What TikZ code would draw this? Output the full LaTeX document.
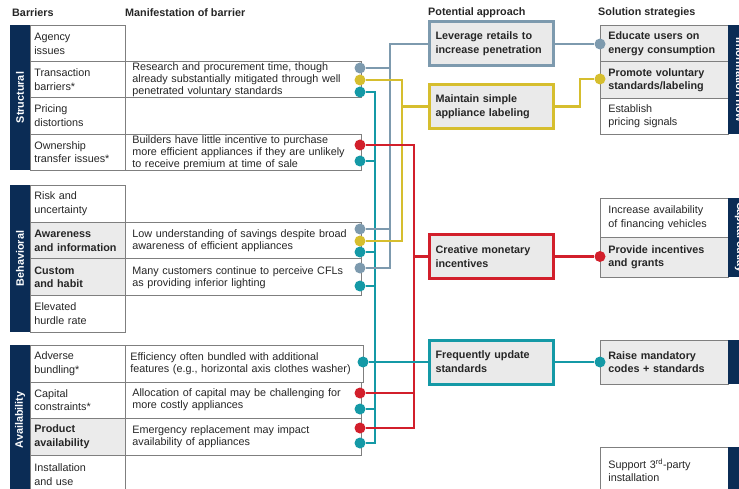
\documentclass[tikz,border=0pt]{standalone}
\usepackage{fontspec}
\setmainfont{Liberation Sans}
\usepackage{tikz}
\usetikzlibrary{positioning, calc}
\pgfdeclarelayer{lines}
\pgfsetlayers{lines,main}
\definecolor{navy}{HTML}{0B2C55}
\definecolor{framegray}{HTML}{7F7F7F}
\definecolor{keygray}{HTML}{EBEBEB}
\definecolor{apfill}{HTML}{EAEAEA}
\definecolor{inkgray}{HTML}{262626}
\definecolor{cgrey}{HTML}{7D9AAE}
\definecolor{cyellow}{HTML}{D6BE2E}
\definecolor{cteal}{HTML}{1499A6}
\definecolor{cred}{HTML}{D21F2B}
\tikzset{
  hdr/.style={font=\bfseries\fontsize{10.8}{12}\selectfont, text=inkgray, anchor=west, inner sep=0pt},
  brow/.style={rectangle, draw=framegray, line width=0.7pt, fill=white, text=inkgray,
    font=\fontsize{10.8}{13.8}\selectfont, minimum width=95pt, minimum height=36.5pt,
    text width=87pt, align=left, inner xsep=4pt, inner ysep=0pt, anchor=north west},
  brow/key/.style={brow, fill=keygray, font=\bfseries\fontsize{10.8}{13.8}\selectfont},
  mbox/.style={rectangle, draw=framegray, line width=0.7pt, fill=white, text=inkgray,
    font=\fontsize{10.8}{12}\selectfont, minimum width=235pt, minimum height=36.5pt,
    text width=222pt, align=left, inner xsep=7pt, inner ysep=0pt, anchor=north west},
  grp/.style={rectangle, fill=navy, text=white, font=\bfseries\fontsize{10.8}{12}\selectfont,
    minimum height=20pt, inner sep=0pt},
  appr/.style={rectangle, draw=#1, line width=3pt, fill=apfill, text=inkgray,
    font=\bfseries\fontsize{10.8}{14}\selectfont, minimum width=124pt, minimum height=44pt,
    text width=112pt, align=left, inner xsep=6pt, inner ysep=0pt},
  sbox/.style={rectangle, draw=framegray, line width=0.7pt, fill=white, text=inkgray,
    font=\fontsize{10.8}{13.5}\selectfont, minimum width=128pt, text width=112pt,
    align=left, inner xsep=8pt, inner ysep=0pt, anchor=north west},
  sbox/key/.style={sbox, fill=keygray, font=\bfseries\fontsize{10.8}{13.5}\selectfont},
  bead/.style={circle, fill=#1, minimum size=11pt, inner sep=0pt},
  conn/.style={draw=#1, line width=2.8pt},
}
\begin{document}
\begin{tikzpicture}[x=1pt, y=-1pt]
  \useasboundingbox (0,0) rectangle (739,489);
  \clip (0,0) rectangle (739,489);
  % column headers
  \node[hdr] (hB) at (12,13) {Barriers};
  \node[hdr] (hM) at (125,13) {Manifestation of barrier};
  \node[hdr] (hA) at (428,13) {Potential approach};
  \node[hdr] (hS) at (598,13) {Solution strategies};

  % structural barriers
  \node[grp, rotate=90, minimum width=145pt] (gS) at (20,97.5) {Structural};
  \node[brow, minimum height=36.25pt] (bS1) at (30,25) {Agency\\issues};
  \node[brow, minimum height=36.25pt] (bS2) at (30,61.25) {Transaction\\barriers*};
  \node[brow, minimum height=36.25pt] (bS3) at (30,97.5) {Pricing\\distortions};
  \node[brow, minimum height=36.25pt] (bS4) at (30,133.75) {Ownership\\transfer issues*};
  \node[mbox, minimum height=36.25pt] (mS2) at (125,61.25) {Research and procurement time, though\\already substantially mitigated through well\\penetrated voluntary standards};
  \node[mbox, minimum height=36.25pt] (mS4) at (125,133.75) {Builders have little incentive to purchase\\more efficient appliances if they are unlikely\\to receive premium at time of sale};

  % behavioral barriers
  \node[grp, rotate=90, minimum width=147pt] (gB) at (20,258.5) {Behavioral};
  \node[brow, minimum height=36.75pt] (bB1) at (30,185) {Risk and\\uncertainty};
  \node[brow/key, minimum height=36.75pt] (bB2) at (30,221.75) {Awareness\\and information};
  \node[brow/key, minimum height=36.75pt] (bB3) at (30,258.5) {Custom\\and habit};
  \node[brow, minimum height=36.75pt] (bB4) at (30,295.25) {Elevated\\hurdle rate};
  \node[mbox, minimum height=36.75pt] (mB2) at (125,221.75) {Low understanding of savings despite broad\\awareness of efficient appliances};
  \node[mbox, minimum height=36.75pt] (mB3) at (125,258.5) {Many customers continue to perceive CFLs\\as providing inferior lighting};

  % availability barriers
  \node[grp, rotate=90, minimum width=150pt] (gV) at (20,420) {Availability};
  \node[brow] (bV1) at (30,345) {Adverse\\bundling*};
  \node[brow] (bV2) at (30,381.5) {Capital\\constraints*};
  \node[brow/key] (bV3) at (30,418) {Product\\availability};
  \node[brow, minimum height=40pt] (bV4) at (30,454.5) {Installation\\and use};
  \node[mbox, minimum width=238pt, inner xsep=5pt, text width=228pt] (mV1) at (125,345) {Efficiency often bundled with additional\\features (e.g., horizontal axis clothes washer)};
  \node[mbox] (mV2) at (125,381.5) {Allocation of capital may be challenging for\\more costly appliances};
  \node[mbox] (mV3) at (125,418) {Emergency replacement may impact\\availability of appliances};

  % beads on the barrier side
  \node[bead=cgrey] (dT1) at (360,68) {};
  \node[bead=cyellow] (dT2) at (360,80) {};
  \node[bead=cteal] (dT3) at (360,92) {};
  \node[bead=cred] (dO1) at (360,145) {};
  \node[bead=cteal] (dO2) at (360,161) {};
  \node[bead=cgrey] (dA1) at (360,229) {};
  \node[bead=cyellow] (dA2) at (360,241) {};
  \node[bead=cteal] (dA3) at (360,252) {};
  \node[bead=cgrey] (dC1) at (360,268) {};
  \node[bead=cteal] (dC2) at (360,286) {};
  \node[bead=cteal] (dV1) at (363,362) {};
  \node[bead=cred] (dK1) at (360,393) {};
  \node[bead=cteal] (dK2) at (360,409) {};
  \node[bead=cred] (dP1) at (360,428) {};
  \node[bead=cteal] (dP2) at (360,443) {};

  % potential approaches
  \node[appr=cgrey] (lev) at (491.5,44) {Leverage retails to\\increase penetration};
  \node[appr=cyellow] (mnt) at (491.5,106.5) {Maintain simple\\appliance labeling};
  \node[appr=cred] (crt) at (491.5,256.5) {Creative monetary\\incentives};
  \node[appr=cteal] (frq) at (491.5,362) {Frequently update\\standards};

  % solution strategies
  \node[sbox/key, minimum height=36.5pt] (sE) at (600,25) {Educate users on\\energy consumption};
  \node[sbox/key, minimum height=36.5pt] (sP) at (600,61.5) {Promote voluntary\\standards/labeling};
  \node[sbox, minimum height=36pt] (sL) at (600,98) {Establish\\pricing signals};
  \node[grp, rotate=-90, minimum width=109pt, minimum height=24pt] (nI) at (740,79.5) {Information flow};
  \node[sbox, minimum height=39pt] (sF) at (600,198) {Increase availability\\of financing vehicles};
  \node[sbox/key, minimum height=40pt] (sG) at (600,237) {Provide incentives\\and grants};
  \node[grp, rotate=-90, minimum width=79pt, minimum height=24pt] (nC) at (740,237.5) {Capital outlay};
  \node[sbox/key, minimum height=44pt] (sR) at (600,340) {Raise mandatory\\codes + standards};
  \node[grp, rotate=-90, minimum width=44pt, minimum height=24pt] (nR) at (740,362) {};
  \node[sbox, minimum height=46pt] (sS) at (600,447) {Support 3\textsuperscript{rd}-party\\installation};
  \node[grp, rotate=-90, minimum width=46pt, minimum height=24pt] (nS) at (740,470) {};

  % beads on the solution side
  \node[bead=cgrey] (edot) at (600,44) {};
  \node[bead=cyellow] (pdot) at (600,79) {};
  \node[bead=cred] (idot) at (600,256.5) {};
  \node[bead=cteal] (rdot) at (600,362) {};

  % bus lines
  \coordinate (tbus) at (375,0);
  \coordinate (gbus) at (390,0);
  \coordinate (ybus) at (402,0);
  \coordinate (rbus) at (414,0);

  \begin{pgfonlayer}{lines}
    % teal
    \draw[conn=cteal] (dT3) -| (tbus |- dP2) -- (dP2);
    \draw[conn=cteal] (dO2) -- (dO2 -| tbus);
    \draw[conn=cteal] (dA3) -- (dA3 -| tbus);
    \draw[conn=cteal] (dC2) -- (dC2 -| tbus);
    \draw[conn=cteal] (dK2) -- (dK2 -| tbus);
    % grey
    \draw[conn=cgrey] (lev.west) -| (gbus |- dC1) -- (dC1);
    \draw[conn=cgrey] (dT1) -- (dT1 -| gbus);
    \draw[conn=cgrey] (dA1) -- (dA1 -| gbus);
    % yellow
    \draw[conn=cyellow] (dT2) -| (ybus |- dA2) -- (dA2);
    \draw[conn=cyellow] (mnt.west) -- (mnt.west -| ybus);
    % red
    \draw[conn=cred] (dO1) -| (rbus |- dP1) -- (dP1);
    \draw[conn=cred] (dK1) -- (dK1 -| rbus);
    \draw[conn=cred] (crt.west) -- (crt.west -| rbus);
    \draw[conn=cteal] (dV1) -- (frq.west);
    % approach to solution
    \draw[conn=cgrey] (lev.east) -- (edot);
    \draw[conn=cyellow] (mnt.east) -- ++(25,0) |- (pdot);
    \draw[conn=cred] (crt.east) -- (idot);
    \draw[conn=cteal] (frq.east) -- (rdot);
  \end{pgfonlayer}
\end{tikzpicture}
\end{document}
